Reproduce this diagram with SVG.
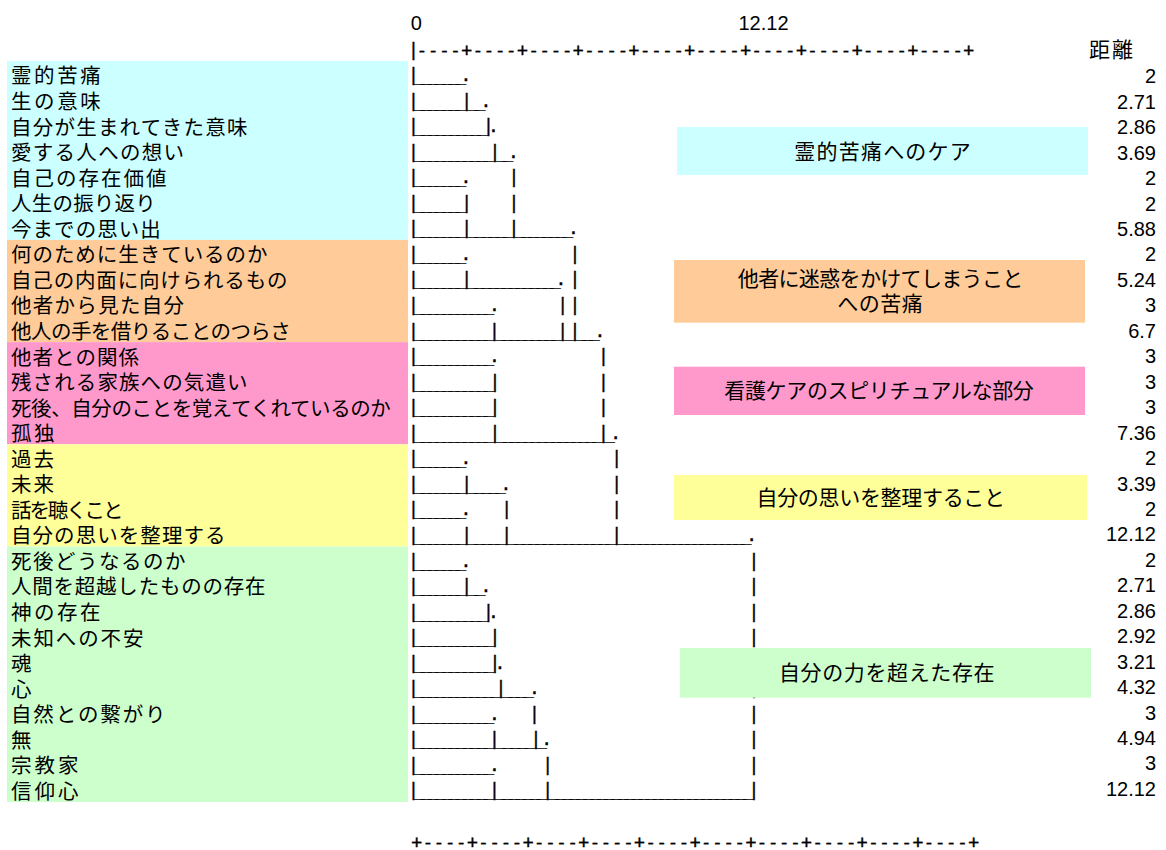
<svg xmlns="http://www.w3.org/2000/svg" width="1166" height="850" viewBox="0 0 1166 850">
<style>
.lb{font-family:"Liberation Sans","Noto Sans CJK JP","Noto Sans CJK SC",sans-serif;font-size:20.5px;fill:#000}
.bx{font-family:"Liberation Sans","Noto Sans CJK JP","Noto Sans CJK SC",sans-serif;font-size:21px;fill:#000}
.dg{font-family:"DejaVu Sans Mono",monospace;font-size:18px;fill:#000;stroke:#000;stroke-width:0.35px}
.m{text-anchor:middle}
.n{font-family:"Liberation Sans",Arial,sans-serif;font-size:20px;fill:#000;text-anchor:end}
.h{font-family:"Liberation Sans",Arial,sans-serif;font-size:20px;fill:#000;text-anchor:middle}
</style>
<rect width="1166" height="850" fill="#fff"/>
<g id="bands">
<rect x="7" y="61" width="401" height="178.9" fill="#CCFFFF"/>
<rect x="7" y="239.9" width="401" height="102.2" fill="#FFCC99"/>
<rect x="7" y="342.1" width="401" height="102.2" fill="#FF99CC"/>
<rect x="7" y="444.3" width="401" height="102.2" fill="#FFFF99"/>
<rect x="7" y="546.5" width="401" height="255.5" fill="#CCFFCC"/>
</g>
<g id="axis-top">
<text class="h" x="416.2" y="30">0</text>
<text class="h" x="763.5" y="30">12.12</text>
<text class="dg" x="407.9 416.6" y="56" letter-spacing="0.32">|----+----+----+----+----+----+----+----+----+----+</text>
<text class="lb" x="1089" y="56.5" style="font-size:21px" textLength="44">距離</text>
</g>
<g id="axis-bottom">
<text class="dg" x="411.3" y="848.3" letter-spacing="0.3">+----+----+----+----+----+----+----+----+----+----+</text>
</g>
<g id="leaves">
<g id="leaf-00"><text class="lb" x="11" y="83.4" textLength="89.8">霊的苦痛</text></g>
<g id="leaf-01"><text class="lb" x="11" y="109" textLength="89.8">生の意味</text></g>
<g id="leaf-02"><text class="lb" x="11" y="134.5" textLength="236.5">自分が生まれてきた意味</text></g>
<g id="leaf-03"><text class="lb" x="11" y="160.1" textLength="173">愛する人への想い</text></g>
<g id="leaf-04"><text class="lb" x="11" y="185.6" textLength="155.5">自己の存在価値</text></g>
<g id="leaf-05"><text class="lb" x="11" y="211.2" textLength="144.8">人生の振り返り</text></g>
<g id="leaf-06"><text class="lb" x="11" y="236.7" textLength="149.8">今までの思い出</text></g>
<g id="leaf-07"><text class="lb" x="11" y="262.3" textLength="256.5">何のために生きているのか</text></g>
<g id="leaf-08"><text class="lb" x="11" y="287.8" textLength="276.5">自己の内面に向けられるもの</text></g>
<g id="leaf-09"><text class="lb" x="11" y="313.4" textLength="173">他者から見た自分</text></g>
<g id="leaf-10"><text class="lb" x="11" y="338.9" textLength="279.8">他人の手を借りることのつらさ</text></g>
<g id="leaf-11"><text class="lb" x="11" y="364.5" textLength="128">他者との関係</text></g>
<g id="leaf-12"><text class="lb" x="11" y="390" textLength="236.5">残される家族への気遣い</text></g>
<g id="leaf-13"><text class="lb" x="11" y="415.6" textLength="379.8">死後、自分のことを覚えてくれているのか</text></g>
<g id="leaf-14"><text class="lb" x="11" y="441.1" textLength="43.5">孤独</text></g>
<g id="leaf-15"><text class="lb" x="11" y="466.7" textLength="43">過去</text></g>
<g id="leaf-16"><text class="lb" x="11" y="492.2" textLength="43">未来</text></g>
<g id="leaf-17"><text class="lb" x="11" y="517.8" textLength="112.5">話を聴くこと</text></g>
<g id="leaf-18"><text class="lb" x="11" y="543.3" textLength="214.5">自分の思いを整理する</text></g>
<g id="leaf-19"><text class="lb" x="11" y="568.9" textLength="174.5">死後どうなるのか</text></g>
<g id="leaf-20"><text class="lb" x="11" y="594.4" textLength="254.5">人間を超越したものの存在</text></g>
<g id="leaf-21"><text class="lb" x="11" y="620" textLength="89.5">神の存在</text></g>
<g id="leaf-22"><text class="lb" x="11" y="645.5" textLength="132.5">未知への不安</text></g>
<g id="leaf-23"><text class="lb" x="11" y="671.1">魂</text></g>
<g id="leaf-24"><text class="lb" x="11" y="696.6">心</text></g>
<g id="leaf-25"><text class="lb" x="11" y="722.2" textLength="154.5">自然との繋がり</text></g>
<g id="leaf-26"><text class="lb" x="11" y="747.7">無</text></g>
<g id="leaf-27"><text class="lb" x="11" y="773.3" textLength="67.5">宗教家</text></g>
<g id="leaf-28"><text class="lb" x="11" y="798.8" textLength="67.5">信仰心</text></g>
</g>
<g id="distances">
<text class="n" x="1156" y="83.3">2</text>
<text class="n" x="1156" y="108.75">2.71</text>
<text class="n" x="1156" y="134.2">2.86</text>
<text class="n" x="1156" y="159.65">3.69</text>
<text class="n" x="1156" y="185.1">2</text>
<text class="n" x="1156" y="210.55">2</text>
<text class="n" x="1156" y="236">5.88</text>
<text class="n" x="1156" y="261.45">2</text>
<text class="n" x="1156" y="286.9">5.24</text>
<text class="n" x="1156" y="312.35">3</text>
<text class="n" x="1156" y="337.8">6.7</text>
<text class="n" x="1156" y="363.25">3</text>
<text class="n" x="1156" y="388.7">3</text>
<text class="n" x="1156" y="414.15">3</text>
<text class="n" x="1156" y="439.6">7.36</text>
<text class="n" x="1156" y="465.05">2</text>
<text class="n" x="1156" y="490.5">3.39</text>
<text class="n" x="1156" y="515.95">2</text>
<text class="n" x="1156" y="541.4">12.12</text>
<text class="n" x="1156" y="566.85">2</text>
<text class="n" x="1156" y="592.3">2.71</text>
<text class="n" x="1156" y="617.75">2.86</text>
<text class="n" x="1156" y="643.2">2.92</text>
<text class="n" x="1156" y="668.65">3.21</text>
<text class="n" x="1156" y="694.1">4.32</text>
<text class="n" x="1156" y="719.55">3</text>
<text class="n" x="1156" y="745">4.94</text>
<text class="n" x="1156" y="770.45">3</text>
<text class="n" x="1156" y="795.9">12.12</text>
</g>
<g id="connectors" class="dg m">
<text y="81" x="413.3 419.3 426.2 433.1 440.0 446.9 453.8 460.7 466">|_______.</text>
<text y="106.6" x="413.3 419.3 426.2 433.1 440.0 446.9 453.8 460.7 466.7 472.8 479.9 486">|_______|__.</text>
<text y="132.1" x="413.3 419.3 426.3 433.3 440.3 447.3 454.3 461.3 468.3 475.3 482.3 488.3 493.3">|__________|.</text>
<text y="157.7" x="413.3 419.3 426.2 433.2 440.1 447.1 454.0 460.9 467.9 474.8 481.8 488.7 495 500.9 507.6 513.5">|___________|__.</text>
<text y="183.2" x="413.3 419.3 426.2 433.1 440.0 446.9 453.8 460.7 466 514">|_______.|</text>
<text y="208.8" x="413.3 419.3 426.2 433.1 440.0 446.9 453.8 460.7 466.7 514">|_______||</text>
<text y="234.3" x="413.3 419.3 426.2 433.1 440.0 446.9 453.8 460.7 466.7 472.7 479.8 486.8 493.9 500.9 508.0 514 519.9 526.7 533.5 540.3 547.1 554.0 560.8 567.6 573.5">|_______|______|________.</text>
<text y="259.9" x="413.3 419.3 426.2 433.1 440.0 446.9 453.8 460.7 466 575">|_______.|</text>
<text y="285.4" x="413.3 419.3 426.2 433.1 440.0 446.9 453.8 460.7 466.7 472.6 479.5 486.4 493.2 500.1 507.0 513.8 520.7 527.6 534.5 541.3 548.2 555.1 561 575">|_______|_____________.|</text>
<text y="311" x="413.3 419.3 426.2 433.2 440.1 447.1 454.0 460.9 467.9 474.8 481.8 488.7 494.3 562.7 575">|___________.||</text>
<text y="336.5" x="413.3 419.3 426.2 433.2 440.1 447.1 454.0 460.9 467.9 474.8 481.8 488.7 494.3 500.3 507.4 514.4 521.5 528.5 535.6 542.6 549.6 556.7 562.7 568.9 575 580.8 587.5 594.2 600">|___________|_________|_|___.</text>
<text y="362.1" x="413.3 419.3 426.2 433.2 440.1 447.1 454.0 460.9 467.9 474.8 481.8 488.7 494.3 603.3">|___________.|</text>
<text y="387.6" x="413.3 419.3 426.2 433.2 440.1 447.1 454.0 460.9 467.9 474.8 481.8 488.7 495 603.3">|___________||</text>
<text y="413.2" x="413.3 419.3 426.2 433.2 440.1 447.1 454.0 460.9 467.9 474.8 481.8 488.7 495 603.3">|___________||</text>
<text y="438.7" x="413.3 419.3 426.2 433.2 440.1 447.1 454.0 460.9 467.9 474.8 481.8 488.7 495 500.9 507.8 514.7 521.6 528.5 535.4 542.3 549.2 556.1 562.9 569.8 576.7 583.6 590.5 597.4 603.3 609.5 615.7">|___________|_______________|_.</text>
<text y="464.3" x="413.3 419.3 426.2 433.1 440.0 446.9 453.8 460.7 466 616.7">|_______.|</text>
<text y="489.8" x="413.3 419.3 426.2 433.1 440.0 446.9 453.8 460.7 466.7 472.6 479.5 486.3 493.2 500.1 506 616.7">|_______|_____.|</text>
<text y="515.4" x="413.3 419.3 426.2 433.1 440.0 446.9 453.8 460.7 466 506.7 616.7">|_______.||</text>
<text y="540.9" x="413.3 419.3 426.2 433.1 440.0 446.9 453.8 460.7 466.7 472.7 479.7 486.7 493.7 500.7 506.7 512.7 519.7 526.7 533.7 540.7 547.7 554.7 561.7 568.7 575.7 582.7 589.7 596.7 603.7 610.7 616.7 622.6 629.5 636.3 643.1 650.0 656.8 663.7 670.5 677.3 684.2 691.0 697.9 704.7 711.5 718.4 725.2 732.1 738.9 745.8 751.7">|_______|_____|_______________|___________________.</text>
<text y="566.5" x="413.3 419.3 426.2 433.1 440.0 446.9 453.8 460.7 466 754">|_______.|</text>
<text y="592" x="413.3 419.3 426.2 433.1 440.0 446.9 453.8 460.7 466.7 472.8 479.9 486 754">|_______|__.|</text>
<text y="617.6" x="413.3 419.3 426.3 433.3 440.3 447.3 454.3 461.3 468.3 475.3 482.3 488.3 493.3 754">|__________|.|</text>
<text y="643.1" x="413.3 419.3 426.2 433.2 440.1 447.1 454.0 460.9 467.9 474.8 481.8 488.7 495 754">|___________||</text>
<text y="668.7" x="413.3 419.3 426.2 433.2 440.1 447.1 454.0 460.9 467.9 474.8 481.8 488.7 495 500 754">|___________|.|</text>
<text y="694.2" x="413.3 419.2 426.1 433.0 439.9 446.8 453.7 460.6 467.5 474.4 481.3 488.2 495.1 501 507.0 514.1 521.2 528.3 534.3 754">|____________|____.|</text>
<text y="719.8" x="413.3 419.3 426.2 433.2 440.1 447.1 454.0 460.9 467.9 474.8 481.8 488.7 494.3 534.3 754">|___________.||</text>
<text y="745.3" x="413.3 419.3 426.2 433.2 440.1 447.1 454.0 460.9 467.9 474.8 481.8 488.7 494.3 500.5 507.8 515.2 522.5 529.8 536 541.4 546.7 754">|___________|_____|_.|</text>
<text y="770.9" x="413.3 419.3 426.2 433.2 440.1 447.1 454.0 460.9 467.9 474.8 481.8 488.7 494.3 547.7 754">|___________.||</text>
<text y="796.4" x="413.3 419.3 426.2 433.2 440.1 447.1 454.0 460.9 467.9 474.8 481.8 488.7 494.3 500.3 507.2 514.1 521.0 528.0 534.9 541.8 547.7 553.7 560.6 567.6 574.5 581.4 588.4 595.3 602.3 609.2 616.1 623.1 630.0 636.9 643.9 650.8 657.8 664.7 671.6 678.6 685.5 692.4 699.4 706.3 713.3 720.2 727.1 734.1 741.0 747.9 754">|___________|_______|_____________________________|</text>
</g>
<g id="cat-spiritual-pain">
<rect x="677" y="127" width="411" height="48" fill="#CCFFFF"/>
<text class="bx" x="794.3" y="158.6" textLength="176.5">霊的苦痛へのケア</text>
</g>
<g id="cat-burden">
<rect x="674" y="260" width="411" height="62.7" fill="#FFCC99"/>
<text class="bx" x="737.8" y="286" textLength="285.5">他者に迷惑をかけてしまうこと</text>
<text class="bx" x="837.3" y="311.3" textLength="85.5">への苦痛</text>
</g>
<g id="cat-nursing">
<rect x="674" y="366.7" width="411" height="48.3" fill="#FF99CC"/>
<text class="bx" x="724.3" y="397.8" textLength="309.5">看護ケアのスピリチュアルな部分</text>
</g>
<g id="cat-organize">
<rect x="674" y="475" width="413" height="45" fill="#FFFF99"/>
<text class="bx" x="756.5" y="505.3" textLength="248.5">自分の思いを整理すること</text>
</g>
<g id="cat-beyond">
<rect x="680" y="648" width="411" height="49.7" fill="#CCFFCC"/>
<text class="bx" x="779" y="680.4" textLength="215.5">自分の力を超えた存在</text>
</g>
</svg>
